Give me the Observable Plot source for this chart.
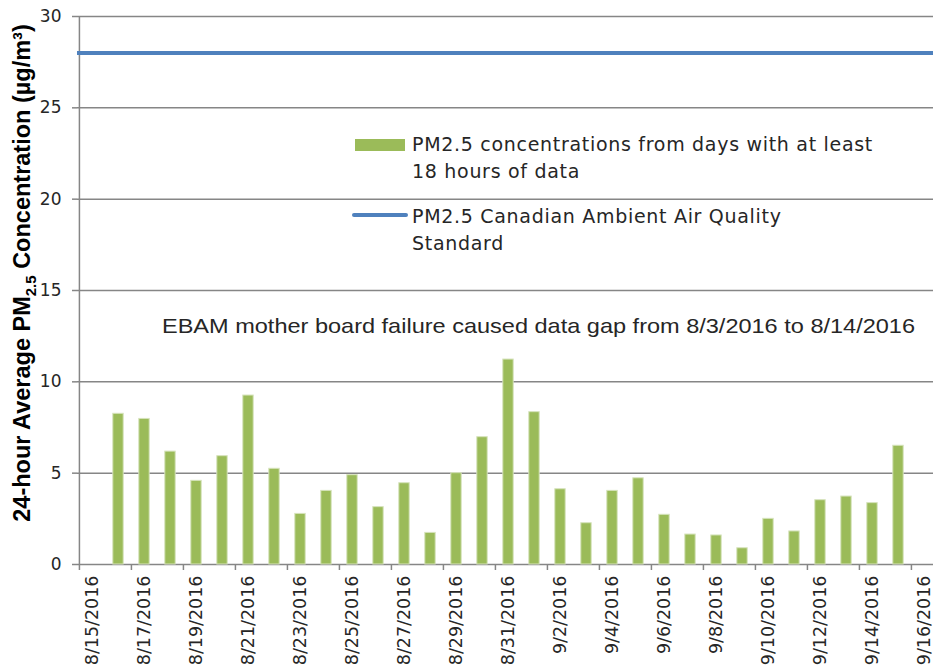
<!DOCTYPE html>
<html>
<head>
<meta charset="utf-8">
<script src="https://cdn.jsdelivr.net/npm/d3@7"></script>
<script src="https://cdn.jsdelivr.net/npm/@observablehq/plot@0.6"></script>
<style>
  html, body { margin: 0; padding: 0; background: white; }
  #chart { width: 933px; height: 667px; overflow: hidden; }
</style>
</head>
<body>
<div id="chart"></div>
<script>
// Categories (one per day)
const dates = [
  "8/15/2016","8/16/2016","8/17/2016","8/18/2016","8/19/2016","8/20/2016","8/21/2016","8/22/2016",
  "8/23/2016","8/24/2016","8/25/2016","8/26/2016","8/27/2016","8/28/2016","8/29/2016","8/30/2016",
  "8/31/2016","9/1/2016","9/2/2016","9/3/2016","9/4/2016","9/5/2016","9/6/2016","9/7/2016",
  "9/8/2016","9/9/2016","9/10/2016","9/11/2016","9/12/2016","9/13/2016","9/14/2016","9/15/2016",
  "9/16/2016"
];
// 24-hour average PM2.5 (µg/m³); null = no bar
const pm25 = [
  null, 8.25, 7.97, 6.18, 4.58, 5.93, 9.25, 5.24,
  2.77, 4.03, 4.89, 3.14, 4.45, 1.73, 5.0, 6.97,
  11.22, 8.34, 4.12, 2.26, 4.03, 4.72, 2.72, 1.64,
  1.59, 0.89, 2.50, 1.81, 3.52, 3.72, 3.36, 6.50,
  null
];
const standard = [28];
const xTickLabels = [
  "8/15/2016","8/17/2016","8/19/2016","8/21/2016","8/23/2016","8/25/2016","8/27/2016","8/29/2016",
  "8/31/2016","9/2/2016","9/4/2016","9/6/2016","9/8/2016","9/10/2016","9/12/2016","9/14/2016","9/16/2016"
];
const yTicks = [0, 5, 10, 15, 20, 25, 30];

const legendLabels = [
  ["PM2.5 concentrations from days with at least", "18 hours of data"],
  ["PM2.5 Canadian Ambient Air Quality", "Standard"]
];
const annotation = "EBAM mother board failure caused data gap from 8/3/2016 to 8/14/2016";

const table = dates.map((d, i) => ({date: d, value: pm25[i]})).filter(d => d.value != null);

const left = 77, dayW = 26.15;
const xRange = [left, left + dayW * dates.length];
const gray = "#868686";

const plot = Plot.plot({
  width: 933,
  height: 667,
  marginLeft: 77,
  marginTop: 16,
  marginBottom: 103,
  marginRight: 0,
  style: {fontFamily: "'DejaVu Sans', sans-serif", fontSize: "17px", color: "#262626", background: "white"},
  x: {type: "band", domain: dates, range: xRange, padding: 0, label: null},
  y: {domain: [0, 30], label: null},
  marks: [
    Plot.ruleY(yTicks, {stroke: gray, strokeWidth: 1.5}),
    Plot.ruleX([dates[0]], {dx: -dayW / 2, stroke: gray, strokeWidth: 1.5}),
    Plot.ruleY(standard, {stroke: "#4F81BD", strokeWidth: 4}),
    Plot.barY(table, {x: "date", y: "value", fill: "#9BBB59", stroke: "#D6E3BC", strokeWidth: 1, insetLeft: 7.8, insetRight: 7.8}),
    Plot.axisY(yTicks, {tickSize: 5, tickPadding: 11, stroke: gray, strokeWidth: 1.5, fontSize: 17, label: null}),
    Plot.axisX(xTickLabels, {tickSize: 6, dx: -dayW / 2, stroke: gray, strokeWidth: 1.5, tickFormat: () => "", label: null}),
    Plot.axisX(xTickLabels, {tickSize: 0, tickPadding: 11, tickRotate: -90, fontSize: 17.5, label: null})
  ]
});

const svg = d3.select(plot);

// Y axis title with subscript
const yt = svg.append("text")
  .attr("transform", "translate(30,273) rotate(-90)")
  .attr("text-anchor", "middle")
  .attr("font-family", "'Liberation Sans', Arial, sans-serif")
  .attr("font-weight", "bold")
  .attr("font-size", 23.5)
  .attr("fill", "#000");
yt.append("tspan").text("24-hour Average PM");
yt.append("tspan").attr("font-size", 15).attr("dy", 6).text("2.5");
yt.append("tspan").attr("dy", -6).text(" Concentration (µg/m³)");

// Legend
const lg = svg.append("g")
  .attr("font-family", "'DejaVu Sans', sans-serif")
  .attr("font-size", 19)
  .attr("letter-spacing", 0.7)
  .attr("text-anchor", "start")
  .attr("fill", "#262626");
lg.append("rect").attr("x", 355).attr("y", 139).attr("width", 50).attr("height", 12).attr("fill", "#9BBB59");
lg.append("line").attr("x1", 354).attr("x2", 406).attr("y1", 215).attr("y2", 215)
  .attr("stroke", "#4F81BD").attr("stroke-width", 4).attr("stroke-linecap", "round");
const lt = [[151, 178], [223, 250]];
legendLabels.forEach((lines, i) => {
  lines.forEach((s, j) => {
    lg.append("text").attr("x", 412).attr("y", lt[i][j]).text(s);
  });
});

// Annotation
svg.append("text")
  .attr("x", 162).attr("y", 333)
  .attr("text-anchor", "start")
  .attr("font-family", "'Liberation Sans Narrow', 'Liberation Sans', sans-serif")
  .attr("font-size", 21)
  .attr("fill", "#262626")
  .attr("textLength", 753)
  .attr("lengthAdjust", "spacingAndGlyphs")
  .text(annotation);

document.getElementById("chart").appendChild(plot);
</script>
</body>
</html>
